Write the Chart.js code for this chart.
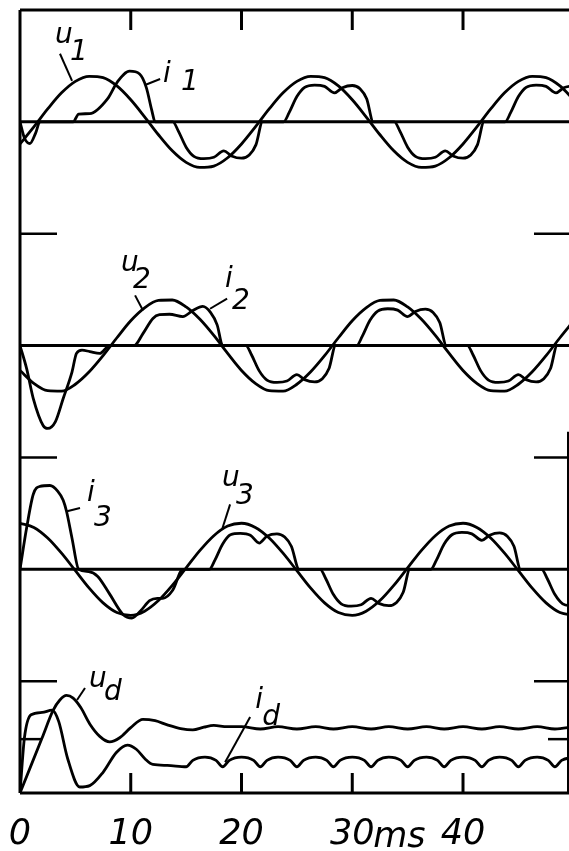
<!DOCTYPE html>
<html>
<head>
<meta charset="utf-8">
<script src="https://cdn.jsdelivr.net/npm/chart.js@4/dist/chart.umd.min.js"></script>
<style>
  html, body { margin: 0; padding: 0; background: #fff; }
  canvas { display: block; }
</style>
</head>
<body>
<canvas id="c" width="569" height="851"></canvas>
<script>
// ── Data (time in ms, values in units of the phase-voltage amplitude) ──
const xTicks      = [0, 10, 20, 30, 40];
const xTickLabels = ['0', '10', '20', '30', '40'];

const uTime = [0,1.25,2.5,3.75,5,6.25,7.5,8.75,10,11.25,12.5,13.75,15,16.25,17.5,18.75,
               20,21.25,22.5,23.75,25,26.25,27.5,28.75,30,31.25,32.5,33.75,35,36.25,37.5,38.75,
               40,41.25,42.5,43.75,45,46.25,47.5,48.75,50];

const u1 = [-0.48,-0.11,0.28,0.63,0.88,0.99,0.96,0.78,0.48,0.11,-0.28,-0.63,-0.88,-0.99,-0.96,-0.78,
            -0.48,-0.11,0.28,0.63,0.88,0.99,0.96,0.78,0.48,0.11,-0.28,-0.63,-0.88,-0.99,-0.96,-0.78,
            -0.48,-0.11,0.28,0.63,0.88,0.99,0.96,0.78,0.48];
const u2 = [-0.54,-0.82,-0.98,-0.99,-0.84,-0.57,-0.22,0.17,0.54,0.82,0.98,0.99,0.84,0.57,0.22,-0.17,
            -0.54,-0.82,-0.98,-0.99,-0.84,-0.57,-0.22,0.17,0.54,0.82,0.98,0.99,0.84,0.57,0.22,-0.17,
            -0.54,-0.82,-0.98,-0.99,-0.84,-0.57,-0.22,0.17,0.54];
const u3 = [1.00,0.91,0.68,0.35,-0.03,-0.41,-0.73,-0.94,-1.00,-0.91,-0.68,-0.35,0.03,0.41,0.73,0.94,
            1.00,0.91,0.68,0.35,-0.03,-0.41,-0.73,-0.94,-1.00,-0.91,-0.68,-0.35,0.03,0.41,0.73,0.94,
            1.00,0.91,0.68,0.35,-0.03,-0.41,-0.73,-0.94,-1.00];

const i1T = [0,0.4,0.9,1.4,1.8,4.8,5.3,6.3,7.9,8.8,9.9,10.8,11.4,11.9,12.2,
             13.8,14.3,15.0,15.7,16.6,17.5,18.4,19.1,20.0,20.7,21.3,21.9,
             23.8,24.3,25.0,25.7,26.6,27.5,28.4,29.1,30.0,30.7,31.3,31.9,
             33.8,34.3,35.0,35.7,36.6,37.5,38.4,39.1,40.0,40.7,41.3,41.9,
             43.8,44.3,45.0,45.7,46.6,47.5,48.4,49.1,50.0];
const i1V = [0,-0.35,-0.47,-0.25,0,0,0.17,0.18,0.5,0.87,1.1,1.04,0.75,0.25,0,
             0,-0.2,-0.55,-0.75,-0.8,-0.77,-0.63,-0.74,-0.79,-0.72,-0.5,0,
             0,0.2,0.55,0.75,0.8,0.77,0.63,0.74,0.79,0.72,0.5,0,
             0,-0.2,-0.55,-0.75,-0.8,-0.77,-0.63,-0.74,-0.79,-0.72,-0.5,0,
             0,0.2,0.55,0.75,0.8,0.77,0.63,0.74,0.79];

const i2T = [0,0.6,1.2,2.1,2.5,3.2,3.9,4.7,5.1,5.6,6.3,7.2,8.1,10.3,
             11.1,12.0,12.6,13.5,14.7,15.6,16.5,17.2,17.8,18.3,
             20.4,20.9,21.6,22.3,23.2,24.1,25.0,25.7,26.6,27.3,27.9,28.5,
             30.4,30.9,31.6,32.3,33.2,34.1,35.0,35.7,36.6,37.3,37.9,38.5,
             40.4,40.9,41.6,42.3,43.2,44.1,45.0,45.7,46.6,47.3,47.9,48.5,50.0];
const i2V = [0,-0.5,-1.15,-1.74,-1.8,-1.65,-1.15,-0.57,-0.17,-0.1,-0.13,-0.17,0,0,
             0.26,0.59,0.67,0.68,0.63,0.76,0.85,0.72,0.45,0,
             0,-0.2,-0.55,-0.75,-0.8,-0.77,-0.63,-0.74,-0.79,-0.72,-0.5,0,
             0,0.2,0.55,0.75,0.8,0.77,0.63,0.74,0.79,0.72,0.5,0,
             0,-0.2,-0.55,-0.75,-0.8,-0.77,-0.63,-0.74,-0.79,-0.72,-0.5,0,0];

const i3T = [0,0.6,1.2,1.8,2.7,3.4,3.9,4.2,4.7,5.3,6.2,7.0,8.1,9.3,10.1,10.9,11.7,12.4,12.9,13.8,14.7,17.1,
             17.6,18.3,19.0,19.9,20.8,21.6,22.3,23.2,23.9,24.5,25.2,
             27.1,27.6,28.3,29.0,29.9,30.8,31.7,32.4,33.3,34.0,34.6,35.2,
             37.1,37.6,38.3,39.0,39.9,40.8,41.7,42.4,43.3,44.0,44.6,45.2,
             47.1,47.6,48.3,49.0,49.9];
const i3V = [0,0.9,1.63,1.8,1.82,1.7,1.5,1.26,0.67,0,-0.05,-0.15,-0.54,-0.98,-1.06,-0.9,-0.68,-0.63,-0.63,-0.45,0,0,
             0.2,0.55,0.75,0.78,0.74,0.57,0.72,0.77,0.7,0.5,0,
             0,-0.2,-0.55,-0.75,-0.8,-0.77,-0.63,-0.74,-0.79,-0.72,-0.5,0,
             0,0.2,0.55,0.75,0.8,0.77,0.63,0.74,0.79,0.72,0.5,0,
             0,-0.2,-0.55,-0.75,-0.8];

const udT = [0,1,2,3,3.6,4.2,4.8,5.5,6.3,7.2,8.1,9.0,10.0,11.1,12.2,13.3,14.5,15.6,16.6,17.5,18.7,
             20.0,21.7,23.3,25.0,26.7,28.3,30.0,31.7,33.3,35.0,36.7,38.3,40.0,41.7,43.3,45.0,46.7,48.3,50.0];
const udV = [0,0.6,1.2,1.8,2.02,2.12,2.06,1.85,1.5,1.23,1.11,1.2,1.42,1.6,1.57,1.48,1.4,1.37,1.43,1.47,1.44,
             1.44,1.39,1.44,1.39,1.44,1.39,1.44,1.39,1.44,1.39,1.44,1.39,1.44,1.39,1.44,1.39,1.44,1.39,1.44];

const idT = [0,0.4,1.0,2.0,2.9,3.5,4.3,5.4,6.3,7.5,8.7,9.7,10.5,11.3,12.0,13.3,15.0,15.6,16.7,17.7,
             18.3,18.9,20.0,21.1,21.7,22.3,23.3,24.4,25.0,25.6,26.7,27.7,28.3,28.9,30.0,31.1,
             31.7,32.3,33.3,34.4,35.0,35.6,36.7,37.7,38.3,38.9,40.0,41.1,41.7,42.3,43.3,44.4,
             45.0,45.6,46.7,47.7,48.3,48.9,50.0];
const idV = [0,1.2,1.7,1.75,1.8,1.55,0.75,0.13,0.16,0.45,0.88,1.04,0.95,0.74,0.62,0.6,0.57,0.71,0.78,0.71,
             0.57,0.71,0.78,0.71,0.57,0.71,0.78,0.71,0.57,0.71,0.78,0.71,0.57,0.71,0.78,0.71,
             0.57,0.71,0.78,0.71,0.57,0.71,0.78,0.71,0.57,0.71,0.78,0.71,0.57,0.71,0.78,0.71,
             0.57,0.71,0.78,0.71,0.57,0.71,0.78];

const levelMark = 1.17;   // short reference marks in the u_d / i_d panel

// curve labels: letter, subscript, panel axis, anchor (t, v), subscript offset, leader line
const curveLabels = [
    { txt: 'u', sub: '1', axis: 'y1', t: 3.16,  v: 1.72, dx: 15, drop: 17, line: [3.61, 1.48, 4.70, 0.89] },
    { txt: 'i', sub: '1', axis: 'y1', t: 12.92, v: 0.87, dx: 18, drop: 8,  line: [11.29, 0.80, 12.65, 0.93] },
    { txt: 'u', sub: '2', axis: 'y2', t: 9.12,  v: 1.61, dx: 12, drop: 17, line: [10.39, 1.09, 11.11, 0.76] },
    { txt: 'i', sub: '2', axis: 'y2', t: 18.52, v: 1.28, dx: 7,  drop: 22, line: [18.70, 1.02, 17.16, 0.80] },
    { txt: 'i', sub: '3', axis: 'y3', t: 6.05,  v: 1.48, dx: 7,  drop: 25, line: [5.42, 1.33, 4.25, 1.26] },
    { txt: 'u', sub: '3', axis: 'y3', t: 18.25, v: 1.80, dx: 14, drop: 18, line: [18.97, 1.41, 18.25, 0.87] },
    { txt: 'u', sub: 'd', axis: 'y4', t: 6.23,  v: 2.30, dx: 15, drop: 13, line: [5.87, 2.28, 5.15, 2.02] },
    { txt: 'i', sub: 'd', axis: 'y4', t: 21.23, v: 1.85, dx: 7,  drop: 17, line: [20.78, 1.65, 18.52, 0.67] }
];

// ── Helpers ────────────────────────────────────────────────────────────
function pts(ts, vs) {
    return ts.map((t, k) => ({ x: t, y: vs[k] }));
}

function curve(data, axis) {
    return {
        data: data,
        yAxisID: axis,
        borderColor: '#000',
        borderWidth: 2.8,
        pointRadius: 0,
        fill: false,
        cubicInterpolationMode: 'monotone'
    };
}

function panelAxis(weight, min, max) {
    return {
        type: 'linear',
        position: 'left',
        stack: 'panels',
        stackWeight: weight,
        min: min,
        max: max,
        ticks: { display: false },
        grid: { display: false, drawTicks: false },
        border: { display: false }
    };
}

const labelFont = 'italic 28px "DejaVu Sans"';

// frame, zero lines, tick marks and curve labels
const framePlugin = {
    id: 'frame',
    afterDatasetsDraw(chart) {
        const { ctx, chartArea: a, scales } = chart;
        const xs = scales.x;
        const seg = (x1, y1, x2, y2, w) => {
            ctx.lineWidth = w;
            ctx.beginPath();
            ctx.moveTo(x1, y1);
            ctx.lineTo(x2, y2);
            ctx.stroke();
        };
        ctx.save();
        ctx.strokeStyle = '#000';
        ctx.fillStyle = '#000';

        seg(a.left, a.top, a.left, a.bottom, 3);
        seg(a.left, a.top, a.right, a.top, 3);
        seg(a.left, a.bottom, a.right, a.bottom, 3);
        seg(a.right - 1, scales.y2.getPixelForValue(-1.87), a.right - 1, a.bottom, 2);

        ['y1', 'y2', 'y3'].forEach(id => {
            const y = scales[id].getPixelForValue(0);
            seg(a.left, y, a.right, y, 3);
        });
        ['y2', 'y3', 'y4'].forEach(id => {
            const y = scales[id].top;
            seg(a.left, y, a.left + 37, y, 2.5);
            seg(a.right - 35, y, a.right, y, 2.5);
        });
        const yl = scales.y4.getPixelForValue(levelMark);
        seg(a.left, yl, a.left + 22, yl, 2.5);
        seg(a.right - 21, yl, a.right, yl, 2.5);

        xTicks.slice(1).forEach(t => {
            const px = xs.getPixelForValue(t);
            seg(px, a.top, px, a.top + 20, 3);
            seg(px, a.bottom - 20, px, a.bottom, 3);
        });

        // unit next to the "30" tick label
        ctx.font = 'italic 35px "DejaVu Sans"';
        ctx.textBaseline = 'alphabetic';
        ctx.textAlign = 'left';
        ctx.fillText('ms', xs.getPixelForValue(30) + 21, a.bottom + 54);

        curveLabels.forEach(l => {
            const ys = scales[l.axis];
            const x = xs.getPixelForValue(l.t);
            const y = ys.getPixelForValue(l.v);
            ctx.font = labelFont;
            ctx.fillText(l.txt, x, y);
            ctx.fillText(l.sub, x + l.dx, y + l.drop);
            seg(xs.getPixelForValue(l.line[0]), ys.getPixelForValue(l.line[1]),
                xs.getPixelForValue(l.line[2]), ys.getPixelForValue(l.line[3]), 2);
        });
        ctx.restore();
    }
};

new Chart(document.getElementById('c'), {
    type: 'line',
    data: {
        datasets: [
            curve(pts(uTime, u1), 'y1'),
            curve(pts(i1T, i1V), 'y1'),
            curve(pts(uTime, u2), 'y2'),
            curve(pts(i2T, i2V), 'y2'),
            curve(pts(uTime, u3), 'y3'),
            curve(pts(i3T, i3V), 'y3'),
            curve(pts(udT, udV), 'y4'),
            curve(pts(idT, idV), 'y4')
        ]
    },
    options: {
        responsive: false,
        animation: false,
        devicePixelRatio: 1,
        layout: { padding: { left: 20, top: 10, right: 0, bottom: -26 } },
        plugins: { legend: { display: false }, tooltip: { enabled: false } },
        scales: {
            x: {
                type: 'linear',
                min: 0,
                max: 49.57,
                afterBuildTicks: s => { s.ticks = xTicks.map(v => ({ value: v })); },
                afterFit: s => { s.paddingLeft = 0; s.paddingRight = 0; },
                ticks: {
                    color: '#000',
                    padding: 21,
                    maxRotation: 0,
                    autoSkip: false,
                    font: { family: 'DejaVu Sans', size: 35, style: 'italic' },
                    callback: (v) => xTickLabels[xTicks.indexOf(v)]
                },
                grid: { display: false, drawTicks: false },
                border: { display: false }
            },
            // stacked panels: last defined is placed on top
            y4: panelAxis(1, 0, 2.43),
            y3: panelAxis(2, -2.43, 2.43),
            y2: panelAxis(2, -2.43, 2.43),
            y1: panelAxis(2, -2.43, 2.43)
        }
    },
    plugins: [framePlugin]
});
</script>
</body>
</html>
